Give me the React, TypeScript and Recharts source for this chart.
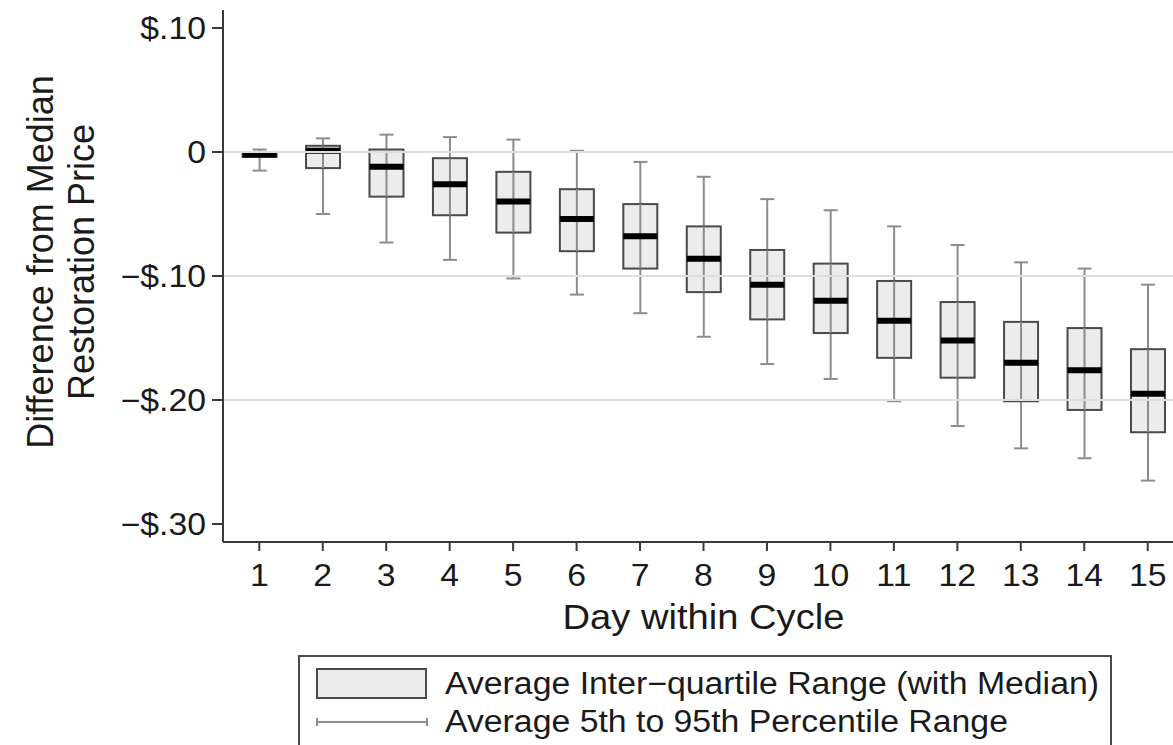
import React from 'react';
import { ComposedChart, Bar, XAxis, YAxis, ReferenceLine, Label } from 'recharts';

// Day within cycle, and the averaged percentiles
const days = [1, 2, 3, 4, 5, 6, 7, 8, 9, 10, 11, 12, 13, 14, 15];
const p5 = [-0.015, -0.050, -0.073, -0.087, -0.102, -0.115, -0.130, -0.149, -0.171, -0.183, -0.201, -0.221, -0.239, -0.247, -0.265];
const q1 = [-0.004, -0.013, -0.036, -0.051, -0.065, -0.080, -0.094, -0.113, -0.135, -0.146, -0.166, -0.182, -0.201, -0.208, -0.226];
const median = [-0.002, 0.001, -0.012, -0.026, -0.040, -0.054, -0.068, -0.086, -0.107, -0.120, -0.136, -0.152, -0.170, -0.176, -0.195];
const q3 = [0.000, 0.005, 0.002, -0.005, -0.016, -0.030, -0.042, -0.060, -0.079, -0.090, -0.104, -0.121, -0.137, -0.142, -0.159];
const p95 = [0.002, 0.011, 0.014, 0.012, 0.010, 0.001, -0.008, -0.020, -0.038, -0.047, -0.060, -0.075, -0.089, -0.094, -0.107];

const yTicks = [-0.3, -0.2, -0.1, 0, 0.1];
const yTickLabels = ['\u2212$.30', '\u2212$.20', '\u2212$.10', '0', '$.10'];
const gridValues = [0, -0.1, -0.2];

const data = days.map((d, i) => ({
  day: d,
  p5: p5[i],
  q1: q1[i],
  median: median[i],
  q3: q3[i],
  p95: p95[i],
}));

const FONT = '"Liberation Sans", Arial, Helvetica, sans-serif';
const AXIS = '#3a3a3a';
const TEXT = '#1a1a1a';
const WHISKER = '#8c8c8c';
const BOX_FILL = '#ececec';
const BOX_STROKE = '#4a4a4a';
// the source figure's lettering is a little wider than Arial
const STRETCH = 1.09;

// one bar per day spans p5..p95; the shape draws whisker, IQR box and median
function BoxShape(props: any) {
  const { x, y, width, height, payload } = props;
  if (!payload || height == null) return null;
  const top = Math.min(y, y + height);
  const h = Math.abs(height);
  const span = payload.p95 - payload.p5;
  const py = (v: number) => top + (h * (payload.p95 - v)) / span;
  const cx = x + width / 2;
  const cap = 7;
  const boxTop = py(payload.q3);
  const boxBot = py(payload.q1);
  const med = py(payload.median);
  return (
    <g>
      <line x1={cx} x2={cx} y1={py(payload.p95)} y2={py(payload.p5)} stroke={WHISKER} strokeWidth={2} />
      <line x1={cx - cap} x2={cx + cap} y1={py(payload.p95)} y2={py(payload.p95)} stroke={WHISKER} strokeWidth={2} />
      <line x1={cx - cap} x2={cx + cap} y1={py(payload.p5)} y2={py(payload.p5)} stroke={WHISKER} strokeWidth={2} />
      <rect x={x} y={boxTop} width={width} height={Math.max(boxBot - boxTop, 1)} fill={BOX_FILL} stroke={BOX_STROKE} strokeWidth={2} />
      <line x1={cx} x2={cx} y1={boxTop} y2={boxBot} stroke={WHISKER} strokeWidth={2} />
      <line x1={x} x2={x + width} y1={med} y2={med} stroke="#000" strokeWidth={6} />
    </g>
  );
}

function XTick(props: any) {
  const { x, y, payload } = props;
  return (
    <g transform={`translate(${x},${y})`}>
      <text transform={`scale(${STRETCH},1)`} textAnchor="middle" dy="0.71em" fontSize={31} fontFamily={FONT} fill={TEXT}>
        {payload.value}
      </text>
    </g>
  );
}

function YTick(props: any) {
  const { x, y, payload } = props;
  const i = yTicks.findIndex((t) => Math.abs(t - payload.value) < 1e-9);
  return (
    <g transform={`translate(${x},${y})`}>
      <text transform={`scale(${STRETCH},1)`} textAnchor="end" dy="0.355em" fontSize={31} fontFamily={FONT} fill={TEXT}>
        {yTickLabels[i] ?? ''}
      </text>
    </g>
  );
}

function YTitle(props: any) {
  const vb = props.viewBox || {};
  const cy = (vb.y || 10) + (vb.height || 532) / 2 - 14;
  return (
    <g fontFamily={FONT} fontSize={36} fill={TEXT} textAnchor="middle">
      <text x={40} y={cy} transform={`rotate(-90 40 ${cy})`} dominantBaseline="central">
        Difference from Median
      </text>
      <text x={81} y={cy} transform={`rotate(-90 81 ${cy})`} dominantBaseline="central">
        Restoration Price
      </text>
    </g>
  );
}

function XTitle(props: any) {
  const vb = props.viewBox || {};
  const cx = (vb.x || 0) + (vb.width || 0) / 2;
  return (
    <g transform={`translate(${cx},617)`}>
      <text transform={`scale(${STRETCH},1)`} fontFamily={FONT} fontSize={35} fill={TEXT} textAnchor="middle" dominantBaseline="central">
        Day within Cycle
      </text>
    </g>
  );
}

const legendText: React.CSSProperties = {
  marginLeft: 17,
  whiteSpace: 'nowrap',
  lineHeight: '32px',
  display: 'inline-block',
  transform: `scaleX(${STRETCH})`,
  transformOrigin: 'left center',
};

function Legend() {
  return (
    <div
      style={{
        position: 'absolute',
        left: 298,
        top: 655,
        width: 814,
        height: 110,
        border: `2px solid ${BOX_STROKE}`,
        background: '#fff',
        fontFamily: FONT,
        fontSize: 31,
        color: TEXT,
        boxSizing: 'border-box',
      }}
    >
      <div style={{ position: 'absolute', left: 16, top: 11, display: 'flex', alignItems: 'center' }}>
        <svg width={112} height={32}>
          <rect x={1} y={1} width={109} height={29} fill={BOX_FILL} stroke={BOX_STROKE} strokeWidth={2} />
        </svg>
        <span style={legendText}>Average Inter{'\u2212'}quartile Range (with Median)</span>
      </div>
      <div style={{ position: 'absolute', left: 16, top: 49, display: 'flex', alignItems: 'center' }}>
        <svg width={112} height={32}>
          <line x1={1} x2={111} y1={16} y2={16} stroke={WHISKER} strokeWidth={2} />
          <line x1={1} x2={1} y1={12} y2={20} stroke={WHISKER} strokeWidth={2} />
          <line x1={111} x2={111} y1={12} y2={20} stroke={WHISKER} strokeWidth={2} />
        </svg>
        <span style={legendText}>Average 5th to 95th Percentile Range</span>
      </div>
    </div>
  );
}

export default function App() {
  return (
    <div
      style={{
        position: 'absolute',
        left: 0,
        top: 0,
        width: 1173,
        height: 745,
        overflow: 'hidden',
        background: '#fff',
      }}
    >
      <ComposedChart
        width={1200}
        height={745}
        data={data}
        margin={{ top: 10, right: 16, bottom: 123, left: 0 }}
      >
        {gridValues.map((v) => (
          <ReferenceLine key={v} y={v} stroke="#dedede" strokeWidth={2} ifOverflow="extendDomain" />
        ))}
        <XAxis
          type="number"
          dataKey="day"
          domain={[0.428, 15.572]}
          ticks={days}
          allowDataOverflow
          height={80}
          stroke={AXIS}
          strokeWidth={2}
          tickSize={9}
          tickMargin={13}
          tick={<XTick />}
          interval={0}
        >
          <Label content={<XTitle />} />
        </XAxis>
        <YAxis
          type="number"
          domain={[-0.3145, 0.1145]}
          ticks={yTicks}
          allowDataOverflow
          width={223}
          stroke={AXIS}
          strokeWidth={2}
          tickSize={11}
          tickMargin={6}
          tick={<YTick />}
          interval={0}
        >
          <Label content={<YTitle />} />
        </YAxis>
        <Bar
          dataKey={(d: any) => [d.p5, d.p95]}
          barSize={34}
          shape={<BoxShape />}
          isAnimationActive={false}
        />
      </ComposedChart>
      <Legend />
    </div>
  );
}
